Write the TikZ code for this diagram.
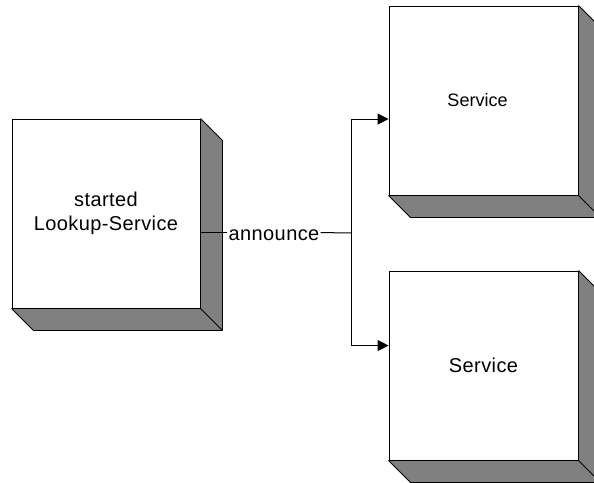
\documentclass[tikz,border=0pt]{standalone}
\usepackage{fontspec}
\setmainfont{Liberation Sans}[LetterSpace=2]
\newfontfamily\tightfont{Liberation Sans}
\usetikzlibrary{calc,arrows.meta}

\pgfdeclarelayer{back}
\pgfsetlayers{back,main}

% depth of the bevelled block sides
\newcommand{\blockdepth}{22}

\tikzset{
  block/.style={draw=black, line width=0.9pt, fill=white, rectangle,
    minimum width=189pt, minimum height=189pt, inner sep=0pt,
    align=center, font=\fontsize{20}{24}\selectfont},
  blockside/.style={draw=black, line width=0.9pt, line join=round},
  wire/.style={draw=black, line width=1pt},
  arrowwire/.style={wire, -{Triangle[length=11pt, width=11pt]}},
}

% the two shaded faces below and to the right of a block
\newcommand{\blockfaces}[1]{%
  \fill[gray] (#1.north east) -- ++(\blockdepth,\blockdepth) -- ($(#1.south east)+(\blockdepth,\blockdepth)$)
     -- ($(#1.south west)+(\blockdepth,\blockdepth)$) -- (#1.south west) -- cycle;
  \draw[blockside] (#1.north east) -- ++(\blockdepth,\blockdepth) -- ($(#1.south east)+(\blockdepth,\blockdepth)$)
     -- ($(#1.south west)+(\blockdepth,\blockdepth)$) -- (#1.south west);
  \draw[blockside] (#1.south east) -- ++(\blockdepth,\blockdepth);
}

\begin{document}
\begin{tikzpicture}[x={(1pt,0)}, y={(0,-1pt)}]
  \useasboundingbox (0,0) rectangle (594,482);

  % front faces of the three blocks
  \node[block, minimum width=188pt] (lookup) at (106,213.5) {started\\Lookup-Service};
  \node[block, font=\tightfont\fontsize{18}{22}\selectfont] (svcA) at (483.5,100.5) {\hspace*{-12pt}Service};
  \node[block] (svcB) at (483.5,365.5) {Service};

  % shaded sides behind the fronts
  \begin{pgfonlayer}{back}
    \blockfaces{lookup}
    \blockfaces{svcA}
    \blockfaces{svcB}
  \end{pgfonlayer}

  % announce connector
  \node[inner sep=1pt, font=\fontsize{20}{24}\selectfont, anchor=base] (ann) at (274,240) {announce};
  \coordinate (src) at ($(lookup.north east)+(0,114)$);
  \coordinate (split) at (351.7,233);
  \draw[wire] (src) -- (src -| ann.west);
  \draw[wire] (src -| ann.east) -- (split);
  \draw[arrowwire] (split) |- ($(svcA.north west)+(0,113.5)$);
  \draw[arrowwire] (split) |- ($(svcB.north west)+(0,75)$);
\end{tikzpicture}
\end{document}
